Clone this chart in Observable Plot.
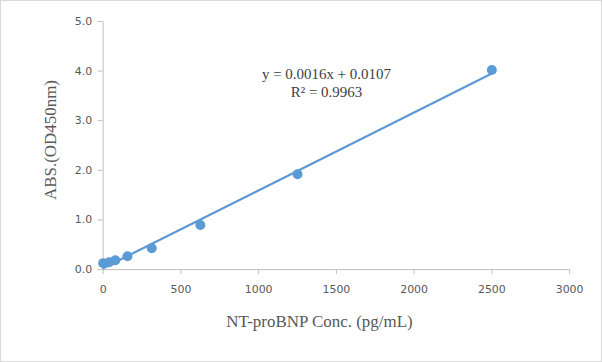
<!DOCTYPE html>
<html>
<head>
<meta charset="utf-8">
<script src="https://cdn.jsdelivr.net/npm/d3@7"></script>
<script src="https://cdn.jsdelivr.net/npm/@observablehq/plot@0.6"></script>
<style>
  html, body { margin: 0; padding: 0; background: #fff; }
  #chart { width: 602px; height: 362px; box-sizing: border-box; border: 1px solid #d9d9d9; overflow: hidden; position: relative; }
  #chart svg { position: absolute; left: -1px; top: -1px; }
</style>
</head>
<body>
<div id="chart"></div>
<script>
// Data
const conc = [0, 39.06, 78.13, 156.25, 312.5, 625, 1250, 2500];
const absorbance = [0.13, 0.15, 0.19, 0.27, 0.43, 0.90, 1.92, 4.02];
const xTicks = [0, 500, 1000, 1500, 2000, 2500, 3000];
const yTicks = [0, 1, 2, 3, 4, 5];
const equationLines = ["y = 0.0016x + 0.0107", "R² = 0.9963"];
const xTitle = "NT-proBNP Conc. (pg/mL)";
const yTitle = "ABS.(OD450nm)";

const data = conc.map((x, i) => ({x, y: absorbance[i]}));

const blue = "#5b9bd5";
const axisColor = "#bfbfbf";
const textColor = "#595959";
const tickFont = "DejaVu Sans";
const titleFont = "Liberation Serif";

const plot = Plot.plot({
  width: 602,
  height: 362,
  marginLeft: 103,
  marginRight: 31,
  marginTop: 21,
  marginBottom: 92,
  style: {fontFamily: tickFont, fontSize: "11px", color: textColor, background: "transparent"},
  x: {domain: [0, 3000]},
  y: {domain: [0, 5]},
  marks: [
    Plot.ruleY([0], {stroke: axisColor, strokeWidth: 1}),
    Plot.ruleX([0], {stroke: axisColor, strokeWidth: 1}),
    Plot.axisX({ticks: xTicks, tickSize: 5, tickPadding: 11, stroke: axisColor, fill: textColor, fontFamily: tickFont, fontSize: 11, label: null, tickFormat: d => String(d)}),
    Plot.axisY({ticks: yTicks, tickSize: 5, tickPadding: 6, stroke: axisColor, fill: textColor, fontFamily: tickFont, fontSize: 11, label: null, tickFormat: d3.format(".1f")}),
    Plot.linearRegressionY(data, {x: "x", y: "y", stroke: blue, strokeWidth: 2.25, ci: 0}),
    Plot.dot(data, {x: "x", y: "y", r: 5, fill: blue, stroke: null}),
    Plot.text([equationLines.join("\n")], {frameAnchor: "top-left", dx: 224, dy: 45, textAnchor: "middle", lineAnchor: "top", lineHeight: 1.2, fontFamily: titleFont, fontSize: 15, fill: "#404040"}),
    Plot.text([xTitle], {frameAnchor: "bottom", dx: -17, dy: 58, textAnchor: "middle", lineAnchor: "bottom", fontFamily: titleFont, fontSize: 17, fill: textColor}),
    Plot.text([yTitle], {frameAnchor: "left", dx: -53, dy: -5.5, textAnchor: "middle", lineAnchor: "middle", rotate: -90, fontFamily: titleFont, fontSize: 17, fill: textColor})
  ]
});
document.getElementById("chart").appendChild(plot);
</script>
</body>
</html>
